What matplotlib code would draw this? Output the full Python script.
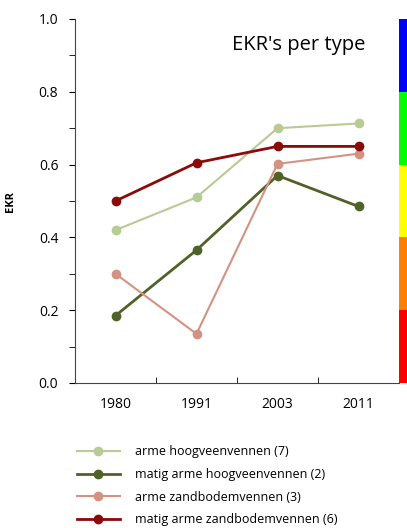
import matplotlib.pyplot as plt
from matplotlib.ticker import MultipleLocator

plt.rcParams['font.family'] = ['Open Sans', 'DejaVu Sans']

years = ["1980", "1991", "2003", "2011"]
arme_hoogveen = [0.42, 0.51, 0.70, 0.713]
matig_arme_hoogveen = [0.185, 0.365, 0.57, 0.485]
arme_zandbodem = [0.30, 0.135, 0.602, 0.63]
matig_arme_zandbodem = [0.50, 0.605, 0.65, 0.65]

series = [
    ("arme hoogveenvennen (7)", arme_hoogveen, "#b6cc94", 1.5),
    ("matig arme hoogveenvennen (2)", matig_arme_hoogveen, "#4f6228", 2.0),
    ("arme zandbodemvennen (3)", arme_zandbodem, "#d49282", 1.5),
    ("matig arme zandbodemvennen (6)", matig_arme_zandbodem, "#8b0a0a", 2.0),
]

# EKR class boundaries and colours for the bar on the right
class_edges = [0.0, 0.2, 0.4, 0.6, 0.8, 1.0]
class_colors = ["#ff0000", "#ff8000", "#ffff00", "#00ff00", "#0000ff"]

fig = plt.figure(figsize=(4.07, 5.28), dpi=100)
ax = fig.add_axes([75 / 407, 1 - 383 / 528, 324 / 407, 364 / 528])

x = list(range(len(years)))
for label, vals, color, lw in series:
    ax.plot(x, vals, color=color, lw=lw, marker="o", markersize=6, label=label)

ax.set_xlim(-0.5, len(years) - 0.5)
ax.set_ylim(0, 1.0)
ax.set_xticks(x)
ax.set_xticklabels(years, fontsize=10)
ax.set_xticks([i - 0.5 for i in range(len(years) + 1)], minor=True)
ax.tick_params(axis="x", which="major", length=0, pad=10)
ax.tick_params(axis="x", which="minor", length=4, direction="in")
ax.yaxis.set_major_locator(MultipleLocator(0.2))
ax.yaxis.set_minor_locator(MultipleLocator(0.1))
ax.yaxis.set_major_formatter(lambda v, p: f"{v:.1f}")
ax.tick_params(axis="y", which="both", length=4, labelsize=10, pad=8)
for side in ("top", "right"):
    ax.spines[side].set_visible(False)
for side in ("left", "bottom"):
    ax.spines[side].set_color("#444444")
ax.set_ylabel("EKR", fontsize=8, fontweight="bold", labelpad=16)

ax.text(0.895, 0.955, "EKR's per type", transform=ax.transAxes,
        ha="right", va="top", fontsize=14.5)

bar = fig.add_axes([399 / 407, 1 - 383 / 528, 8 / 407, 364 / 528])
for lo, hi, c in zip(class_edges[:-1], class_edges[1:], class_colors):
    bar.axhspan(lo, hi, color=c, lw=0)
bar.set_ylim(0, 1.0)
bar.set_xlim(0, 1)
bar.axis("off")

ax.legend(loc="upper left", bbox_to_anchor=(-0.03, -0.14), frameon=False,
          fontsize=9, handlelength=3.5, labelspacing=0.78, handletextpad=1.2)

fig.savefig("out.png", dpi=100)
